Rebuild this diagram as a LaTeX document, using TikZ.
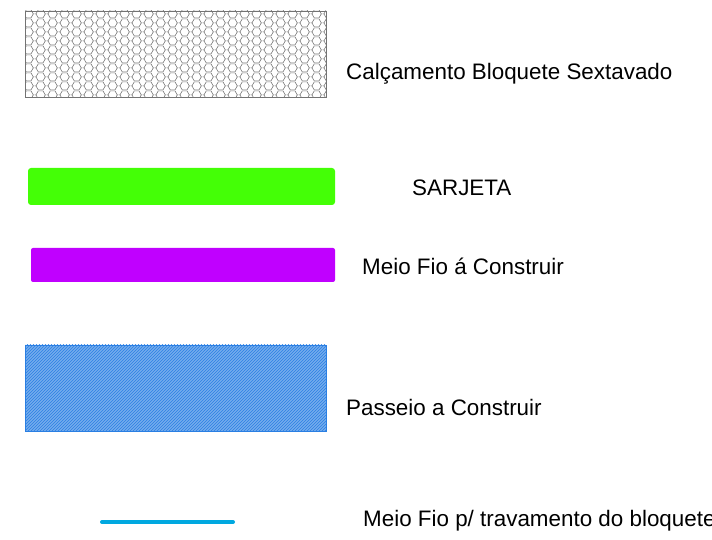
\documentclass[tikz,border=0pt]{standalone}
\usepackage{fontspec}
\setmainfont{Liberation Sans}
\usetikzlibrary{patterns}
\usetikzlibrary{positioning}

% honeycomb tile, 11.6pt x 9pt
\pgfdeclarepatternformonly{hexcells}{\pgfpointorigin}{\pgfpoint{11.6pt}{9pt}}{\pgfpoint{11.6pt}{9pt}}{
\pgfsetlinewidth{0.6pt}
\pgfsetroundcap
\pgfpathmoveto{\pgfpoint{0pt}{4.5pt}}\pgfpathlineto{\pgfpoint{1pt}{4.5pt}}
\pgfpathlineto{\pgfpoint{3.4pt}{9pt}}\pgfpathlineto{\pgfpoint{8.2pt}{9pt}}
\pgfpathlineto{\pgfpoint{10.6pt}{4.5pt}}\pgfpathlineto{\pgfpoint{11.6pt}{4.5pt}}
\pgfpathmoveto{\pgfpoint{1pt}{4.5pt}}\pgfpathlineto{\pgfpoint{3.4pt}{0pt}}
\pgfpathlineto{\pgfpoint{8.2pt}{0pt}}\pgfpathlineto{\pgfpoint{10.6pt}{4.5pt}}
\pgfusepath{stroke}}

\definecolor{sarjeta}{HTML}{44FF06}
\definecolor{meiofio}{HTML}{C000FF}
\definecolor{passeio}{HTML}{2A7FE3}
\definecolor{travamento}{HTML}{00A8E0}

\tikzset{legtext/.style={font=\fontsize{22.4}{26}\selectfont,text=black,inner sep=0pt,anchor=base west}}

\begin{document}
\begin{tikzpicture}[x=1pt,y=1pt]
\useasboundingbox (0,0) rectangle (712,540);
\draw[pattern=hexcells, pattern color=black!55,draw=black!55,thin] (25,443) rectangle (326,529);
\fill[sarjeta,rounded corners=3pt] (28,335) rectangle (335,372);
\fill[meiofio,rounded corners=2pt] (31,258) rectangle (335,292);
\fill[passeio!65] (25,109) rectangle (326,195);
\draw[pattern=north east lines, pattern color=passeio,draw=passeio,thin] (25,109) rectangle (326,195);
\draw[travamento,line width=4pt,line cap=round] (102,18) -- (233,18);

\node[legtext] (calc) at (346,460) {Calçamento Bloquete Sextavado};
\node[legtext] (sarj) at (412,344) {SARJETA};
\node[legtext] (mfio) at (362,265) {Meio Fio á Construir};
\node[legtext] (pass) at (346,124) {Passeio a Construir};
\node[legtext] (trav) at (363,13) {Meio Fio p/ travamento do bloquete};

\end{tikzpicture}
\end{document}
